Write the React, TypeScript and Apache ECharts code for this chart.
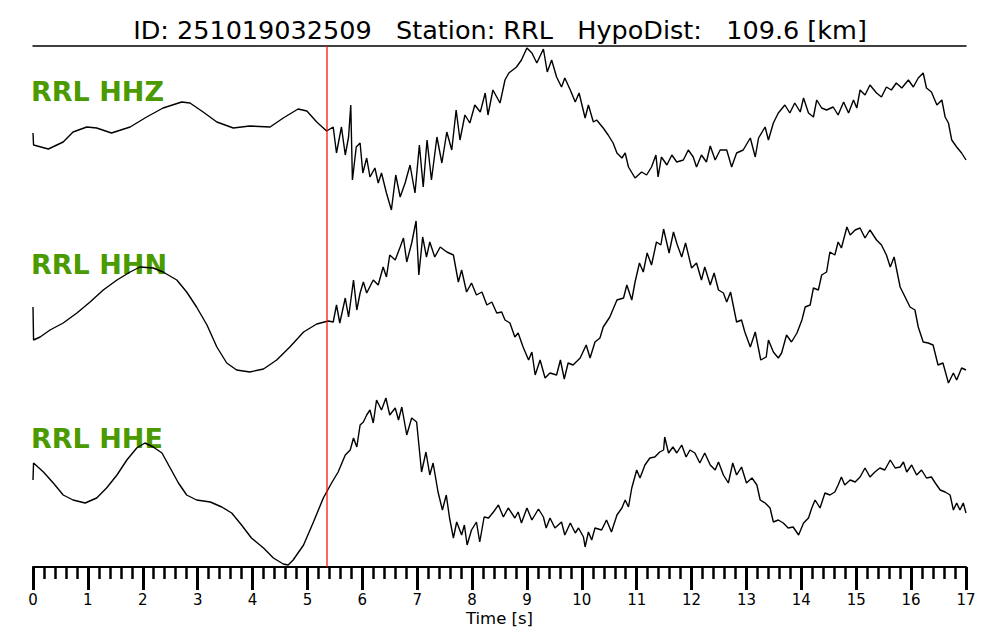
import React, { useEffect, useRef } from 'react';
import * as echarts from 'echarts';

const EVENT_ID = '251019032509';
const STATION = 'RRL';
const HYPO_DIST_KM = 109.6;
const CHANNELS = ['HHZ', 'HHN', 'HHE'];
const P_PICK_S = 5.357;
const T_MIN = 0;
const T_MAX = 17;

// [time s, amplitude counts]
const hhz: [number, number][] = [
  [0, -3], [0.01, -15], [0.28, -19], [0.55, -12], [0.73, -2], [0.98, 3], [1.16, 2], [1.43, -3], [1.77, 3],
  [2.07, 13], [2.37, 22], [2.71, 28], [2.86, 27], [3.1, 18], [3.35, 8], [3.65, 2], [3.95, 4], [4.32, 3],
  [4.56, 12], [4.83, 21], [4.99, 19], [5.17, 8], [5.35, -1], [5.47, 3], [5.53, -23], [5.62, 3], [5.69, -25],
  [5.75, -7], [5.79, 25], [5.82, -50], [5.89, -17], [5.96, -13], [6.01, -43], [6.08, -28], [6.14, -47],
  [6.23, -38], [6.29, -53], [6.35, -43], [6.44, -63], [6.53, -80], [6.61, -45], [6.69, -67], [6.78, -53],
  [6.87, -35], [6.96, -63], [7.04, -15], [7.11, -57], [7.18, -10], [7.26, -50], [7.36, -7], [7.45, -33],
  [7.54, -2], [7.63, -20], [7.71, 20], [7.78, -10], [7.87, 15], [7.96, 7], [8.05, 25], [8.15, 18], [8.24, 37],
  [8.29, 15], [8.38, 40], [8.51, 27], [8.6, 50], [8.67, 57], [8.81, 63], [8.9, 70], [9.0, 82], [9.09, 77],
  [9.18, 67], [9.3, 81], [9.37, 58], [9.45, 70], [9.54, 53], [9.63, 43], [9.69, 52], [9.79, 40], [9.88, 28],
  [9.95, 37], [10.06, 12], [10.12, 25], [10.21, 8], [10.27, 10], [10.39, 2], [10.48, -5], [10.57, -13],
  [10.64, -23], [10.73, -28], [10.79, -23], [10.85, -37], [10.97, -48], [11.09, -42], [11.18, -45],
  [11.27, -37], [11.35, -25], [11.39, -47], [11.45, -27], [11.55, -35], [11.64, -25], [11.73, -32],
  [11.85, -30], [11.94, -20], [12.03, -27], [12.09, -37], [12.18, -25], [12.27, -32], [12.34, -16],
  [12.43, -30], [12.52, -20], [12.64, -20], [12.73, -37], [12.82, -23], [12.94, -20], [13.07, -8],
  [13.16, -27], [13.22, -8], [13.34, 3], [13.4, -10], [13.49, 7], [13.58, 17], [13.7, 25], [13.79, 17],
  [13.88, 27], [13.98, 18], [14.04, 32], [14.13, 17], [14.22, 13], [14.28, 30], [14.37, 22], [14.46, 20],
  [14.58, 23], [14.67, 15], [14.77, 28], [14.86, 17], [14.95, 30], [15.01, 22], [15.07, 40], [15.16, 35],
  [15.25, 45], [15.37, 37], [15.46, 33], [15.55, 43], [15.64, 40], [15.73, 47], [15.83, 42], [15.95, 50],
  [16.04, 43], [16.13, 52], [16.22, 57], [16.28, 42], [16.37, 38], [16.47, 25], [16.56, 30], [16.62, 13],
  [16.68, 7], [16.74, -10], [16.83, -17], [16.92, -23], [17.0, -30],
];

const hhn: [number, number][] = [
  [0, -7], [0.01, -40], [0.13, -37], [0.31, -30], [0.55, -23], [0.8, -13], [1.04, -2], [1.28, 10], [1.53, 20],
  [1.77, 28], [1.95, 33], [2.19, 32], [2.37, 28], [2.62, 20], [2.8, 8], [2.98, -7], [3.17, -25], [3.35, -47],
  [3.53, -63], [3.71, -70], [3.95, -72], [4.2, -69], [4.44, -60], [4.68, -47], [4.93, -32], [5.17, -24],
  [5.38, -21], [5.47, -22], [5.53, -5], [5.59, -23], [5.69, 2], [5.75, -17], [5.84, 20], [5.9, -10],
  [5.96, 7], [6.02, 18], [6.08, 7], [6.2, 20], [6.29, 15], [6.38, 33], [6.44, 23], [6.5, 45], [6.6, 40],
  [6.69, 53], [6.75, 62], [6.81, 38], [6.9, 57], [6.98, 79], [7.03, 25], [7.1, 63], [7.17, 43], [7.23, 58],
  [7.32, 43], [7.42, 53], [7.54, 48], [7.66, 45], [7.75, 18], [7.81, 30], [7.9, 8], [7.99, 17], [8.08, 5],
  [8.18, 8], [8.27, -5], [8.36, -2], [8.45, -13], [8.54, -12], [8.6, -20], [8.69, -23], [8.78, -37],
  [8.84, -33], [8.93, -47], [9.03, -60], [9.09, -52], [9.15, -75], [9.24, -60], [9.33, -78], [9.42, -73],
  [9.54, -75], [9.61, -60], [9.68, -79], [9.75, -63], [9.84, -65], [9.97, -58], [10.08, -45], [10.15, -58],
  [10.24, -42], [10.33, -38], [10.39, -27], [10.51, -17], [10.64, 0], [10.76, 2], [10.82, 15], [10.91, 0],
  [10.97, 18], [11.05, 37], [11.12, 28], [11.19, 47], [11.27, 35], [11.36, 58], [11.44, 55], [11.49, 71],
  [11.59, 47], [11.67, 68], [11.74, 55], [11.82, 43], [11.89, 57], [12.0, 32], [12.09, 37], [12.18, 20],
  [12.24, 33], [12.34, 15], [12.41, 27], [12.49, 10], [12.58, 7], [12.64, -2], [12.71, 8], [12.82, -22],
  [12.91, -20], [12.97, -32], [13.07, -47], [13.16, -32], [13.26, -60], [13.36, -57], [13.4, -40],
  [13.49, -52], [13.58, -58], [13.64, -53], [13.73, -35], [13.82, -42], [13.92, -33], [14.01, -20],
  [14.07, -7], [14.16, -5], [14.22, 12], [14.31, 10], [14.37, 25], [14.46, 28], [14.52, 48], [14.61, 45],
  [14.67, 58], [14.73, 52], [14.83, 73], [14.89, 65], [14.98, 70], [15.07, 72], [15.16, 62], [15.25, 70],
  [15.37, 60], [15.46, 55], [15.55, 45], [15.62, 33], [15.69, 43], [15.8, 13], [15.89, 3], [15.98, -7],
  [16.07, -10], [16.13, -27], [16.22, -42], [16.31, -43], [16.4, -45], [16.49, -65], [16.58, -63],
  [16.68, -83], [16.77, -73], [16.83, -80], [16.92, -68], [17.0, -70],
];

const hhe: [number, number][] = [
  [0, 0], [0.01, 17], [0.19, 8], [0.37, -3], [0.55, -15], [0.73, -20], [0.95, -23], [1.16, -18], [1.34, -8],
  [1.53, 5], [1.71, 20], [1.89, 32], [2.04, 37], [2.19, 33], [2.35, 27], [2.5, 12], [2.65, -3], [2.8, -15],
  [2.98, -20], [3.23, -22], [3.44, -27], [3.62, -33], [3.8, -45], [3.98, -58], [4.2, -68], [4.38, -78],
  [4.56, -84], [4.65, -85], [4.74, -80], [4.93, -65], [5.11, -42], [5.29, -18], [5.44, -3], [5.56, 8],
  [5.69, 25], [5.78, 30], [5.84, 42], [5.9, 33], [5.96, 55], [6.02, 58], [6.08, 65], [6.14, 70], [6.2, 57],
  [6.26, 80], [6.35, 70], [6.43, 82], [6.5, 65], [6.6, 72], [6.66, 60], [6.72, 73], [6.81, 45], [6.9, 62],
  [6.99, 58], [7.08, 8], [7.16, 28], [7.23, 5], [7.29, 17], [7.38, -12], [7.46, -30], [7.53, -15],
  [7.59, -38], [7.66, -58], [7.72, -42], [7.81, -55], [7.86, -45], [7.91, -65], [7.99, -50], [8.08, -42],
  [8.14, -62], [8.22, -37], [8.3, -38], [8.39, -32], [8.48, -25], [8.57, -37], [8.66, -28], [8.78, -38],
  [8.84, -32], [8.9, -43], [9.0, -28], [9.09, -40], [9.21, -29], [9.3, -37], [9.35, -48], [9.42, -38],
  [9.51, -48], [9.63, -42], [9.69, -55], [9.79, -43], [9.88, -53], [9.94, -48], [10.03, -57], [10.06, -67],
  [10.12, -52], [10.18, -60], [10.24, -48], [10.36, -50], [10.45, -40], [10.54, -52], [10.64, -35],
  [10.73, -28], [10.79, -20], [10.85, -27], [10.91, -8], [11.0, 10], [11.06, 2], [11.15, 15], [11.24, 22],
  [11.33, 23], [11.42, 28], [11.49, 30], [11.51, 43], [11.58, 27], [11.66, 33], [11.73, 27], [11.82, 35],
  [11.9, 23], [11.97, 30], [12.06, 27], [12.15, 17], [12.24, 27], [12.34, 15], [12.43, 10], [12.49, 18],
  [12.58, 5], [12.67, -3], [12.75, 17], [12.82, 5], [12.91, 13], [13.0, -3], [13.1, 2], [13.19, -5],
  [13.25, -20], [13.34, -23], [13.43, -28], [13.49, -42], [13.58, -40], [13.67, -43], [13.76, -48],
  [13.85, -47], [13.95, -55], [14.04, -43], [14.13, -38], [14.19, -28], [14.25, -20], [14.34, -28],
  [14.43, -13], [14.52, -15], [14.61, -12], [14.67, -5], [14.73, 3], [14.79, -5], [14.89, 0], [14.98, -2],
  [15.07, 3], [15.16, 12], [15.25, 3], [15.34, 8], [15.43, 12], [15.52, 10], [15.62, 20], [15.71, 12],
  [15.8, 13], [15.86, 18], [15.92, 8], [16.01, 15], [16.1, 5], [16.19, 10], [16.28, 2], [16.37, 3],
  [16.44, -3], [16.53, -10], [16.62, -12], [16.71, -15], [16.77, -30], [16.83, -23], [16.89, -30],
  [16.95, -23], [17.0, -33],
];

const TRACES = [hhz, hhn, hhe];
const AMP_RANGES: [number, number][] = [[-90, 90], [-90, 90], [-87, 90]];

const FONT = 'DejaVu Sans';

export default function App() {
  const ref = useRef<HTMLDivElement>(null);

  useEffect(() => {
    const chart = echarts.init(ref.current!, null, { renderer: 'svg' });
    const title = `ID: ${EVENT_ID}   Station: ${STATION}   HypoDist:   ${HYPO_DIST_KM} [km]`;

    const grids = [
      { left: 33, right: 34, top: 40, height: 180 },
      { left: 33, right: 34, top: 210, height: 180 },
      { left: 33, right: 34, top: 390, height: 177 },
      { left: 33, right: 34, top: 46, height: 521 },
    ];

    const xAxes: any[] = [0, 1].map((i) => ({
      gridIndex: i, type: 'value', min: T_MIN, max: T_MAX, show: false,
    }));
    xAxes.push({
      gridIndex: 2, type: 'value', min: T_MIN, max: T_MAX, interval: 1,
      name: 'Time [s]', nameLocation: 'middle', nameGap: 43,
      nameTextStyle: { fontSize: 16.5, color: '#000', fontFamily: FONT },
      axisLine: { show: true, onZero: false, lineStyle: { color: '#000', width: 2 } },
      axisTick: { show: true, length: 23, lineStyle: { color: '#000', width: 3 } },
      minorTick: { show: true, splitNumber: 5, length: 12, lineStyle: { color: '#000', width: 2.5 } },
      axisLabel: { fontSize: 15, color: '#000', margin: 25, fontFamily: FONT },
      splitLine: { show: false },
      minorSplitLine: { show: false },
    });
    xAxes.push({
      gridIndex: 3, type: 'value', min: T_MIN, max: T_MAX, position: 'top',
      axisLine: { show: true, onZero: false, lineStyle: { color: '#000', width: 1.5 } },
      axisTick: { show: false }, axisLabel: { show: false }, splitLine: { show: false },
    });

    const yAxes: any[] = AMP_RANGES.map(([mn, mx], i) => ({
      gridIndex: i, type: 'value', min: mn, max: mx, show: false,
    }));
    yAxes.push({ gridIndex: 3, type: 'value', min: 0, max: 1, show: false });

    const series: any[] = TRACES.map((d, i) => ({
      type: 'line', xAxisIndex: i, yAxisIndex: i, data: d,
      symbol: 'none', showSymbol: false, silent: true,
      lineStyle: { color: '#000', width: 1.4 },
    }));
    series.push({
      type: 'line', xAxisIndex: 3, yAxisIndex: 3,
      data: [[P_PICK_S, 0], [P_PICK_S, 1]],
      symbol: 'none', silent: true,
      lineStyle: { color: '#ff0000', width: 1.2 },
    });

    const labelYs = [91, 264, 438];
    const graphic = CHANNELS.map((ch, i) => ({
      type: 'text', x: 31, y: labelYs[i], silent: true,
      style: {
        text: `${STATION} ${ch}`, fill: '#4a9a00', fontSize: 27, fontWeight: 'bold',
        fontFamily: FONT, verticalAlign: 'middle', align: 'left',
      },
    }));

    chart.setOption({
      animation: false,
      backgroundColor: '#fff',
      title: {
        text: title, left: 'center', top: 12,
        textStyle: { fontSize: 25.5, fontWeight: 'normal', color: '#000', fontFamily: FONT },
      },
      grid: grids,
      xAxis: xAxes,
      yAxis: yAxes,
      series,
      graphic,
    });
    return () => chart.dispose();
  }, []);

  return <div ref={ref} style={{ position: 'absolute', left: 0, top: 0, width: 1000, height: 640 }} />;
}
